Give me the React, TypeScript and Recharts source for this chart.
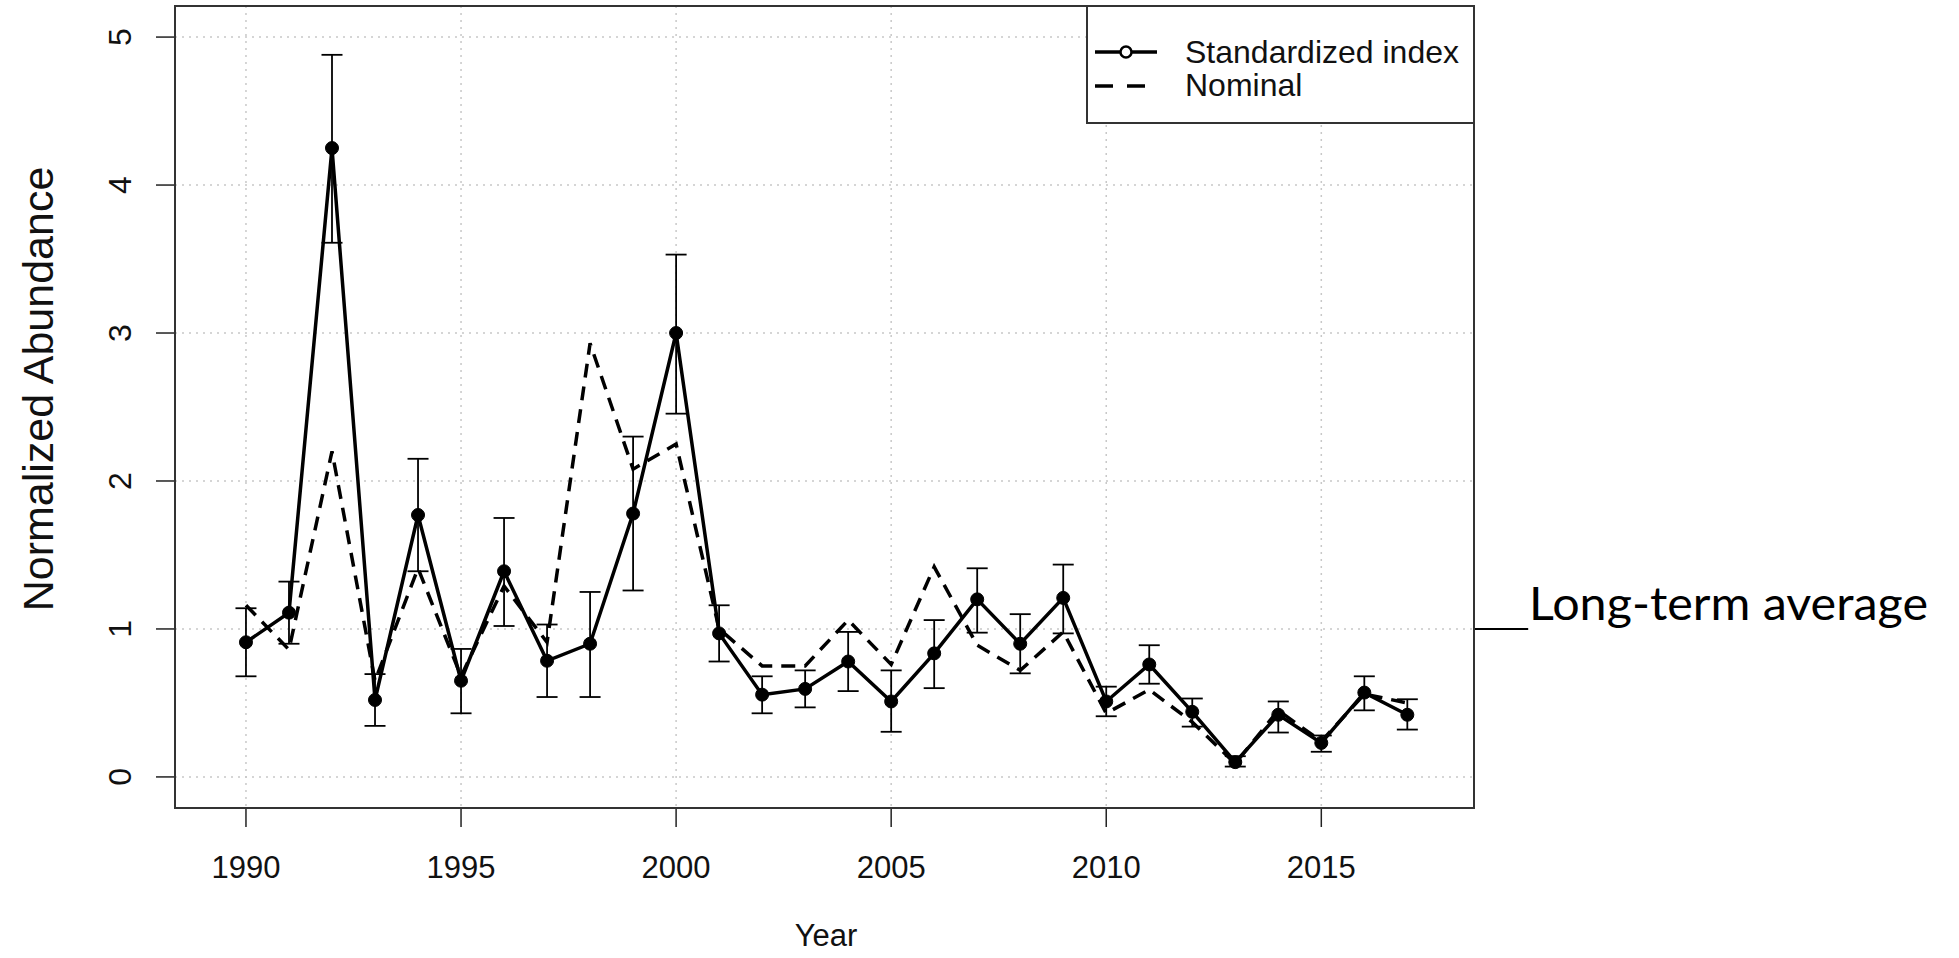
import React from 'react';
import {
  LineChart,
  Line,
  XAxis,
  YAxis,
  CartesianGrid,
  ErrorBar,
  ReferenceLine,
} from 'recharts';

const years = [
  1990, 1991, 1992, 1993, 1994, 1995, 1996, 1997, 1998, 1999,
  2000, 2001, 2002, 2003, 2004, 2005, 2006, 2007, 2008, 2009,
  2010, 2011, 2012, 2013, 2014, 2015, 2016, 2017,
];

const standardized = [
  0.91, 1.11, 4.25, 0.52, 1.77, 0.65, 1.39, 0.785, 0.9, 1.78,
  3.0, 0.97, 0.556, 0.595, 0.78, 0.51, 0.835, 1.2, 0.9, 1.21,
  0.51, 0.76, 0.44, 0.1, 0.42, 0.23, 0.57, 0.42,
];

const upperCI = [
  1.14, 1.32, 4.88, 0.695, 2.15, 0.865, 1.75, 1.03, 1.25, 2.3,
  3.53, 1.16, 0.68, 0.72, 0.98, 0.72, 1.06, 1.41, 1.1, 1.435,
  0.61, 0.89, 0.53, 0.14, 0.51, 0.28, 0.68, 0.525,
];

const lowerCI = [
  0.68, 0.9, 3.61, 0.345, 1.39, 0.43, 1.02, 0.54, 0.54, 1.26,
  2.455, 0.78, 0.43, 0.47, 0.58, 0.305, 0.6, 0.975, 0.7, 0.97,
  0.41, 0.63, 0.34, 0.07, 0.3, 0.17, 0.45, 0.32,
];

const nominal = [
  1.16, 0.86, 2.2, 0.65, 1.41, 0.68, 1.29, 0.91, 2.93, 2.08,
  2.25, 1.0, 0.75, 0.75, 1.06, 0.76, 1.42, 0.89, 0.72, 0.98,
  0.43, 0.59, 0.37, 0.09, 0.45, 0.24, 0.56, 0.5,
];

const xTicks = [1990, 1995, 2000, 2005, 2010, 2015];
const yTicks = [0, 1, 2, 3, 4, 5];
const longTermAverage = 1;

const data = years.map((year, i) => ({
  year,
  std: standardized[i],
  nominal: nominal[i],
  ci: [standardized[i] - lowerCI[i], upperCI[i] - standardized[i]],
}));

const W = 1959;
const H = 958;
// plot box in page pixels
const BOX = { left: 175, right: 1474, top: 6, bottom: 808 };
const Y_AXIS_W = 80;
const X_AXIS_H = 100;
const FONT = '"Liberation Sans", Arial, sans-serif';

const XMIN = 1988.35;
const XMAX = 2018.55;

const YTick = (props: any) => {
  const { y, payload } = props;
  const bx = BOX.left - 44;
  return (
    <text
      x={bx}
      y={y}
      transform={`rotate(-90, ${bx}, ${y})`}
      textAnchor="middle"
      fontSize={32}
      fontFamily={FONT}
      fill="#111"
    >
      {payload.value}
    </text>
  );
};

const App = () => {
  return (
    <div style={{ position: 'absolute', left: 0, top: 0, width: W, height: H, background: '#fff' }}>
      <LineChart
        width={W}
        height={H}
        data={data}
        margin={{
          top: BOX.top,
          right: W - BOX.right,
          left: BOX.left - Y_AXIS_W,
          bottom: H - BOX.bottom - X_AXIS_H,
        }}
      >
        <CartesianGrid stroke="#c8c8c8" strokeWidth={1.5} strokeDasharray="2 5" />
        <XAxis
          dataKey="year"
          type="number"
          domain={[XMIN, XMAX]}
          ticks={xTicks}
          allowDataOverflow
          height={X_AXIS_H}
          axisLine={false}
          tickSize={19}
          tickMargin={29}
          tickLine={{ stroke: '#222', strokeWidth: 1.5 }}
          tick={{ fontSize: 31, fontFamily: FONT, fill: '#111' }}
        />
        <YAxis
          type="number"
          domain={[-0.21, 5.21]}
          ticks={yTicks}
          allowDataOverflow
          width={Y_AXIS_W}
          axisLine={false}
          tickSize={19}
          tickLine={{ stroke: '#222', strokeWidth: 1.5 }}
          tick={<YTick />}
        />
        <Line
          dataKey="nominal"
          stroke="#000"
          strokeWidth={3.5}
          strokeDasharray="14 9"
          dot={false}
          activeDot={false}
          isAnimationActive={false}
        />
        <Line
          dataKey="std"
          stroke="#000"
          strokeWidth={3.5}
          dot={{ r: 6.5, fill: '#000', stroke: '#000', strokeWidth: 1 }}
          activeDot={false}
          isAnimationActive={false}
        >
          <ErrorBar dataKey="ci" direction="y" width={10.5} stroke="#000" strokeWidth={1.8} />
        </Line>
        <ReferenceLine
          segment={[
            { x: XMAX, y: longTermAverage },
            { x: XMAX + 1.26, y: longTermAverage },
          ]}
          ifOverflow="visible"
          stroke="#000"
          strokeWidth={2}
        />
      </LineChart>

      <svg
        width={W}
        height={H}
        style={{ position: 'absolute', left: 0, top: 0, pointerEvents: 'none' }}
      >
        <rect
          x={BOX.left}
          y={BOX.top}
          width={BOX.right - BOX.left}
          height={BOX.bottom - BOX.top}
          fill="none"
          stroke="#333"
          strokeWidth={2}
        />
        {/* legend */}
        <rect x={1087} y={BOX.top} width={BOX.right - 1087} height={117} fill="#fff" stroke="#333" strokeWidth={2} />
        <line x1={1095} y1={52} x2={1157} y2={52} stroke="#000" strokeWidth={3.5} />
        <circle cx={1126} cy={52} r={5.5} fill="#fff" stroke="#000" strokeWidth={2.5} />
        <line x1={1095} y1={86} x2={1157} y2={86} stroke="#000" strokeWidth={3.5} strokeDasharray="18 14" />
        <text x={1185} y={63} fontSize={32} fontFamily={FONT} fill="#111">Standardized index</text>
        <text x={1185} y={96} fontSize={32} fontFamily={FONT} fill="#111">Nominal</text>

        <text
          x={53}
          y={389}
          transform="rotate(-90, 53, 389)"
          textAnchor="middle"
          fontSize={43}
          fontFamily={FONT}
          fill="#111"
        >
          Normalized Abundance
        </text>
        <text x={826} y={946} textAnchor="middle" fontSize={31} fontFamily={FONT} fill="#111">
          Year
        </text>
        <text
          x={1529}
          y={620}
          fontSize={46}
          fontFamily='Lato, "Open Sans", sans-serif'
          textLength={399}
          lengthAdjust="spacingAndGlyphs"
          fill="#000"
        >
          Long-term average
        </text>
      </svg>
    </div>
  );
};

export default App;
